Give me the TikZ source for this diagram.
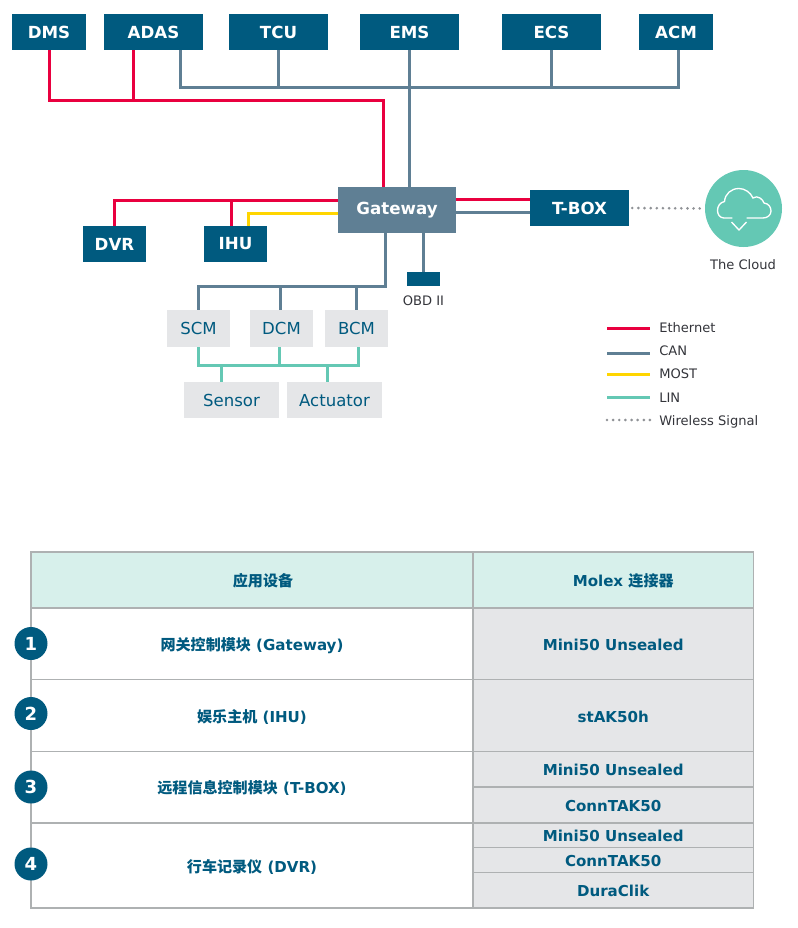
\documentclass[tikz,border=0pt]{standalone}
\usepackage{fontspec}
\setmainfont{DejaVu Sans}
\newfontfamily\cjk{Noto Sans CJK SC}
\usepackage{xcolor}
\definecolor{ecublue}{HTML}{005A7F}
\definecolor{canslate}{HTML}{5F7F94}
\definecolor{ethred}{HTML}{E9003F}
\definecolor{mostyellow}{HTML}{FFD500}
\definecolor{linteal}{HTML}{64C8B4}
\definecolor{modgrey}{HTML}{E5E6E8}
\definecolor{headmint}{HTML}{D7F0EB}
\definecolor{rulegrey}{HTML}{AEB1B2}
\definecolor{dotgrey}{HTML}{8F9296}
\definecolor{notetext}{HTML}{33343A}
\tikzset{
	ecu/.style={
		fill=ecublue,
		text=white,
		font=\fontsize{12.5}{14}\selectfont\bfseries,
		inner sep=0pt,
		minimum height=27pt
	},
	module/.style={
		fill=modgrey,
		text=ecublue,
		font=\fontsize{12.4}{14}\selectfont,
		text height=9.5pt,
		text depth=0.5pt,
		inner sep=0pt
	},
	note/.style={
		text=notetext,
		font=\fontsize{9.8}{11}\selectfont,
		text height=8pt,
		text depth=0.5pt,
		inner sep=0pt
	},
	legendtext/.style={
		note,
		anchor=west
	},
	ethernet/.style={draw=ethred,line width=2.25pt},
	canbus/.style={draw=canslate,line width=2.25pt},
	most/.style={draw=mostyellow,line width=2.25pt},
	lin/.style={draw=linteal,line width=2.25pt},
	wireless/.style={draw=dotgrey,line width=2.2pt,line cap=round,dash pattern=on 0pt off 4.6pt},
	cell/.style={
		draw=rulegrey,
		line width=0.85pt,
		text=ecublue,
		font=\fontsize{11.3}{13}\selectfont\bfseries,
		text height=11pt,
		text depth=1pt,
		inner sep=0pt
	},
	rowcell/.style={cell,fill=white,minimum width=331.5pt},
	plugcell/.style={cell,fill=modgrey,minimum width=210.4pt},
	headcell/.style={cell,fill=headmint},
	rownum/.style={
		circle,
		fill=ecublue,
		text=white,
		font=\fontsize{13.5}{15}\selectfont\bfseries,
		inner sep=0pt,
		minimum size=24.75pt
	}
}

\begin{document}
\begin{tikzpicture}[x=0.75pt,y=-0.75pt]
	\useasboundingbox (0,0) rectangle (798,928);

	\draw
		node [ecu,minimum width=55.5pt] (dms) at (49,32)    {DMS}
		node [ecu,minimum width=74.25pt] (adas) at (153.5,32) {ADAS}
		node [ecu,minimum width=74.25pt] (tcu) at (278.5,32)  {TCU}
		node [ecu,minimum width=74.25pt] (ems) at (409.5,32)  {EMS}
		node [ecu,minimum width=74.25pt] (ecs) at (551.5,32)  {ECS}
		node [ecu,minimum width=55.5pt] (acm) at (676,32)   {ACM}
		node [ecu,minimum width=47.25pt] (dvr) at (114.5,244) {DVR}
		node [ecu,minimum width=47.25pt] (ihu) at (235.5,244) {IHU}
		node [ecu,minimum width=74.25pt] (tbox) at (579.5,208) {T-BOX}
		node [ecu,fill=canslate,minimum width=88.5pt,minimum height=34.5pt] (gateway) at (397,210) {Gateway}
		node [ecu,minimum width=24.75pt,minimum height=10.5pt] (obd) at (423.5,279) {}
		node [note] (obdlabel) at (423.5,300) {OBD II}
		node [circle,fill=linteal,inner sep=0pt,minimum size=57.75pt] (cloud) at (743.5,208.5) {}
		node [note] (cloudlabel) at (743,264) {The Cloud}

		node [module,minimum width=47.25pt,minimum height=27.75pt] (scm) at (198.5,328.5) {SCM}
		node [module,minimum width=47.25pt,minimum height=27.75pt] (dcm) at (281.5,328.5) {DCM}
		node [module,minimum width=47.25pt,minimum height=27.75pt] (bcm) at (356.5,328.5) {BCM}
		node [module,minimum width=71.25pt,minimum height=27pt] (sensor) at (231.5,400) {Sensor}
		node [module,minimum width=71.25pt,minimum height=27pt] (actuator) at (334.5,400) {Actuator}
	;

	% junction points of the buses
	\coordinate (ethtop) at (383,100.5);
	\coordinate (ethtap) at (133,100.5);
	\coordinate (cantop) at (678,87.5);
	\coordinate (canstart) at (180.5,87.5);
	\coordinate (canlow) at (385,286.5);
	\coordinate (canscm) at (198.5,286.5);
	\coordinate (candcm) at (280.5,286.5);
	\coordinate (ethdvr) at (114.5,200);
	\coordinate (ethihu) at (231.5,200);
	\coordinate (mostihu) at (248,213);
	\coordinate (linscm) at (198.5,365);
	\coordinate (lindcm) at (279,365);
	\coordinate (linbcm) at (358.5,365);
	\coordinate (linsensor) at (221,365);
	\coordinate (linactuator) at (327.5,365);

	\draw [canbus] (canstart |- adas.south) -- (canstart) -- (cantop) -- (cantop |- acm.south);
	\draw [canbus] (tcu.south) -- (tcu.south |- cantop);
	\draw [canbus] (ecs.south) -- (ecs.south |- cantop);
	\draw [canbus] (ems.south) -- (ems.south |- gateway.north);
	\draw [canbus] (canlow |- gateway.south) -- (canlow) -- (canscm) -- (scm.north -| canscm);
	\draw [canbus] (candcm) -- (candcm |- dcm.north);
	\draw [canbus] (bcm.north) -- (bcm.north |- canlow);
	\draw [canbus] (gateway.south -| obd.north) -- (obd.north);
	\draw [canbus] (gateway.east |- 0,212) -- (tbox.west |- 0,212);

	\draw [ethernet] (dms.south) |- (ethtop) -- (ethtop |- gateway.north);
	\draw [ethernet] (ethtap |- adas.south) -- (ethtap);
	\draw [ethernet] (dvr.north) |- (gateway.west |- ethdvr);
	\draw [ethernet] (ethihu |- ihu.north) -- (ethihu);
	\draw [ethernet] (gateway.east |- 0,199.5) -- (tbox.west |- 0,199.5);

	\draw [most] (mostihu |- ihu.north) -- (mostihu) -- (gateway.west |- mostihu);

	\draw [lin] (linscm |- scm.south) -- (linscm) -- (linbcm) -- (linbcm |- bcm.south);
	\draw [lin] (lindcm |- dcm.south) -- (lindcm);
	\draw [lin] (linsensor) -- (linsensor |- sensor.north);
	\draw [lin] (linactuator) -- (linactuator |- actuator.north);

	\draw [wireless] (tbox.east) ++(3,0) -- (cloud.west);

	% cloud icon
	\draw [white,line width=1pt,line cap=round]
		(732,218) -- (724,218)
		.. controls (720,218) and (717.5,214.5) .. (717.5,210.5)
		.. controls (717.5,206) and (720,202.5) .. (724.5,201.5)
		.. controls (725,194) and (731,188.5) .. (739,188.5)
		.. controls (745,188.5) and (750.5,192.5) .. (753,198)
		.. controls (755,196.5) and (758,196.5) .. (760,198)
		.. controls (762,199.5) and (763.5,201) .. (764,203)
		.. controls (768.5,203.5) and (771,207) .. (771,211)
		.. controls (771,215) and (767.5,218) .. (763,218)
		-- (747,218);
	\draw [white,line width=1pt] (731.5,222) -- (739,230) -- (746.5,222);

	% legend
	\draw
		node [legendtext] (ethlabel) at (659,327) {Ethernet}
		node [legendtext] (canlabel) at (659,350) {CAN}
		node [legendtext] (mostlabel) at (659,373.5) {MOST}
		node [legendtext] (linlabel) at (659,397) {LIN}
		node [legendtext] (wirelesslabel) at (659,420) {Wireless Signal}
	;
	\coordinate (keystart) at (607,0);
	\draw [ethernet] (keystart |- 0,328.5) -- ++(43,0);
	\draw [canbus] (keystart |- 0,353) -- ++(43,0);
	\draw [most] (keystart |- 0,374.5) -- ++(43,0);
	\draw [lin] (keystart |- 0,397) -- ++(43,0);
	\draw [wireless] (607,420) -- (652.5,420);

	% table
	\draw
		node [headcell,minimum width=331.5pt,minimum height=42pt] (headdevice) at (252,580) {\hspace*{16.5pt}\cjk 应用设备}
		node [headcell,minimum width=210.4pt,minimum height=42pt] (headplug) at (613.2,580) {\hspace*{15pt}Molex \cjk 连接器}

		node [rowcell,minimum height=53.6pt] (rowgateway) at (252,643.75) {{\cjk 网关控制模块} (Gateway)}
		node [rowcell,minimum height=54pt] (rowihu) at (252,715.5) {{\cjk 娱乐主机} (IHU)}
		node [rowcell,minimum height=53.6pt] (rowtbox) at (252,787.25) {{\cjk 远程信息控制模块} (T-BOX)}
		node [rowcell,minimum height=63.75pt] (rowdvr) at (252,865.5) {{\cjk 行车记录仪} (DVR)}

		node [plugcell,minimum height=53.6pt] (pluggateway) at (613.2,643.75) {Mini50 Unsealed}
		node [plugcell,minimum height=54pt] (plugihu) at (613.2,715.5) {stAK50h}
		node [plugcell,minimum height=26.6pt] (plugtboxa) at (613.2,769.25) {Mini50 Unsealed}
		node [plugcell,minimum height=27pt] (plugtboxb) at (613.2,805) {ConnTAK50}
		node [plugcell,minimum height=18.4pt] (plugdvra) at (613.2,835.25) {Mini50 Unsealed}
		node [plugcell,minimum height=18.75pt] (plugdvrb) at (613.2,860) {ConnTAK50}
		node [plugcell,minimum height=26.6pt] (plugdvrc) at (613.2,890.25) {DuraClik}

		node [rownum] (numone) at (31,643.5) {1}
		node [rownum] (numtwo) at (31,713.5) {2}
		node [rownum] (numthree) at (31,787) {3}
		node [rownum] (numfour) at (31,864) {4}
	;
\end{tikzpicture}
\end{document}
